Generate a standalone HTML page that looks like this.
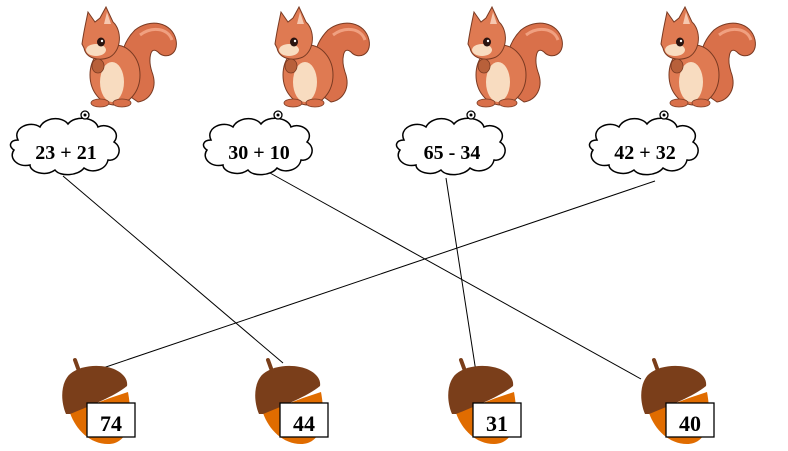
<!DOCTYPE html>
<html><head><meta charset="utf-8"><style>
html,body{margin:0;padding:0;background:#fff;}
svg{display:block;}
text{font-family:"Liberation Serif",serif;font-weight:bold;}
</style></head><body>
<svg width="788" height="451" viewBox="0 0 788 451" xmlns="http://www.w3.org/2000/svg">
<defs>
<g id="sq">
  <path d="M128 95 C115 70 120 45 135 30 C150 18 172 22 176 40 C179 55 165 60 158 52 C150 45 148 60 152 72 C158 88 150 100 138 102 Z" fill="#d9704a" stroke="#7a3a22" stroke-width="1"/>
  <path d="M140 35 C152 26 168 28 172 40" stroke="#f0a080" stroke-width="3" fill="none"/>
  <ellipse cx="115" cy="75" rx="25" ry="30" fill="#df7a52" stroke="#7a3a22" stroke-width="1"/>
  <ellipse cx="112" cy="82" rx="12" ry="20" fill="#f8dcc0"/>
  <path d="M88 12 L95 22 L100 18 L106 7 L113 22 C122 30 122 50 110 57 C98 62 86 58 84 48 L82 44 C84 30 86 22 88 12 Z" fill="#df7a52" stroke="#7a3a22" stroke-width="1"/>
  <path d="M107 12 L111 24 L104 24 Z" fill="#f6c8b0"/>
  <ellipse cx="96" cy="50" rx="10" ry="6" fill="#f8dcc0"/>
  <ellipse cx="101" cy="42" rx="4" ry="4.5" fill="#2a1410"/>
  <circle cx="102" cy="41" r="1.2" fill="#fff"/>
  <ellipse cx="98" cy="66" rx="6" ry="7" fill="#b8603a" stroke="#7a3a22" stroke-width="0.8"/>
  <ellipse cx="100" cy="103" rx="9" ry="4" fill="#d9704a" stroke="#7a3a22" stroke-width="0.8"/>
  <ellipse cx="122" cy="103" rx="9" ry="4" fill="#d9704a" stroke="#7a3a22" stroke-width="0.8"/>
</g>
<g id="cloud">
  <path d="M18 140 C12 128 30 120 40 127 C45 117 62 116 68 124 C75 115 95 117 98 127 C108 122 122 132 114 142 C124 148 118 162 108 160 C106 170 92 174 84 168 C78 176 60 177 55 170 C45 177 30 172 30 165 C18 168 8 158 14 150 C8 146 10 140 18 140 Z" fill="#fff" stroke="#000" stroke-width="1.5"/>
  <circle cx="85" cy="115" r="4" fill="#fff" stroke="#000" stroke-width="1.3"/>
  <circle cx="85" cy="115" r="1.5" fill="#000"/>
</g>
<g id="acorn">
  <path d="M75 360 L79 371" stroke="#7a3e1a" stroke-width="4" stroke-linecap="round"/>
  <path d="M70 413 C76 430 90 444 108 444 C126 444 134 425 128 392 L110 398 Z" fill="#e06c00"/>
  <path d="M66 414 C60 400 61 382 70 374 C82 364 104 364 116 370 C124 374 128 380 127 386 C115 396 90 406 70 414 Z" fill="#7a3e1a"/>
</g>
</defs>

<use href="#sq" x="0"/>
<use href="#sq" x="193"/>
<use href="#sq" x="386"/>
<use href="#sq" x="579"/>

<line x1="63" y1="176" x2="283" y2="363" stroke="#000" stroke-width="1"/>
<line x1="270" y1="173" x2="641" y2="379" stroke="#000" stroke-width="1"/>
<line x1="446" y1="178" x2="476" y2="372" stroke="#000" stroke-width="1"/>
<line x1="655" y1="181" x2="97" y2="370" stroke="#000" stroke-width="1"/>

<use href="#cloud" x="0"/>
<use href="#cloud" x="193"/>
<use href="#cloud" x="386"/>
<use href="#cloud" x="579"/>
<text x="66" y="159" font-size="20" text-anchor="middle">23 + 21</text>
<text x="259" y="159" font-size="20" text-anchor="middle">30 + 10</text>
<text x="452" y="159" font-size="20" text-anchor="middle">65 - 34</text>
<text x="645" y="159" font-size="20" text-anchor="middle">42 + 32</text>

<use href="#acorn" x="0"/>
<use href="#acorn" x="193"/>
<use href="#acorn" x="386"/>
<use href="#acorn" x="579"/>

<g stroke="#000" stroke-width="1.3" fill="#fff">
<rect x="87" y="403" width="48" height="34"/>
<rect x="280" y="403" width="48" height="34"/>
<rect x="473" y="403" width="48" height="34"/>
<rect x="666" y="403" width="48" height="34"/>
</g>
<text x="111" y="431" font-size="22" text-anchor="middle">74</text>
<text x="304" y="431" font-size="22" text-anchor="middle">44</text>
<text x="497" y="431" font-size="22" text-anchor="middle">31</text>
<text x="690" y="431" font-size="22" text-anchor="middle">40</text>
</svg>
</body></html>
